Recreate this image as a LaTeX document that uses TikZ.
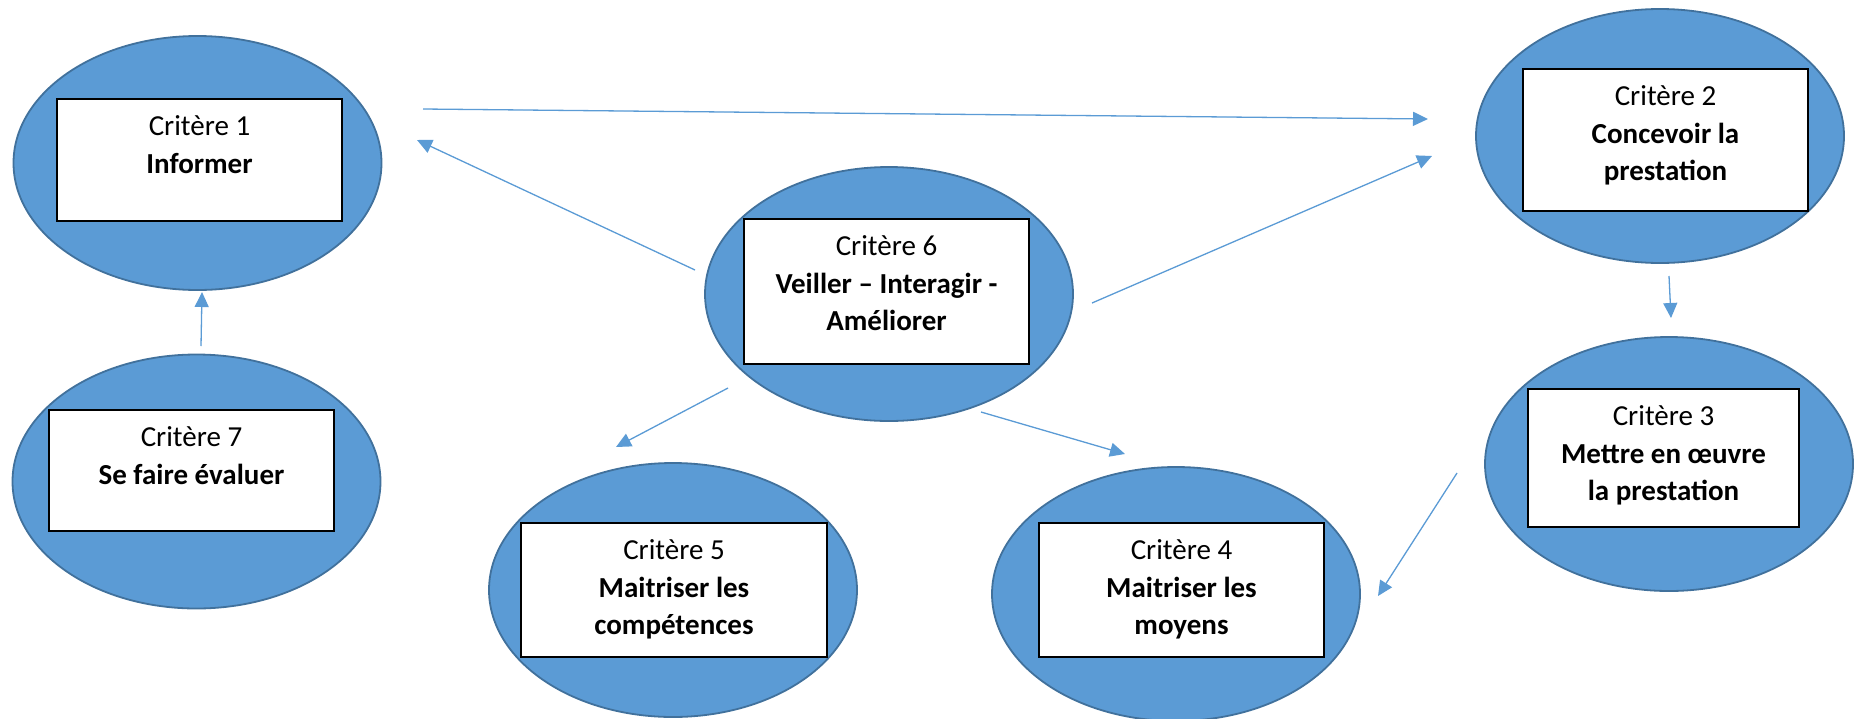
\documentclass[tikz,border=0pt]{standalone}
\usepackage{fontspec}
\setmainfont{Carlito}
\usetikzlibrary{shapes.geometric,arrows.meta}
\definecolor{ellfill}{HTML}{5B9BD5}
\definecolor{elldraw}{HTML}{41719C}
\definecolor{arrcol}{HTML}{5B9BD5}
\newcommand\critlines[1]{\begin{tabular}[t]{@{}c@{}}#1\end{tabular}}
\tikzset{
  ell/.style={ellipse, fill=ellfill, draw=elldraw, line width=1.8pt, inner sep=0pt,
              minimum width=368pt, minimum height=254pt},
  crit/.style={rectangle, fill=white, draw=black, line width=2.2pt, inner sep=0pt},
  txt/.style={inner sep=0pt, anchor=base,
              font=\fontsize{29}{37.5}\selectfont},
  arr/.style={draw=arrcol, line width=1.3pt,
              -{Triangle[length=15pt,width=14pt]}, fill=arrcol}
}
\begin{document}
\begin{tikzpicture}[x=1pt,y=-1pt]
\useasboundingbox (0,0) rectangle (1854,718);

% ellipses
\node[ell] (e1) at (197.5,163) {};
\node[ell] (e2) at (1660,136) {};
\node[ell] (e3) at (1669,464) {};
\node[ell] (e4) at (1176,594) {};
\node[ell] (e5) at (673,590) {};
\node[ell] (e6) at (889,294) {};
\node[ell] (e7) at (196.5,481.5) {};

% boxes
\node[crit, minimum width=285pt, minimum height=122pt] (b1) at (199.5,160) {};
\node[crit, minimum width=285pt, minimum height=142pt] (b2) at (1665.5,140) {};
\node[crit, minimum width=271pt, minimum height=138pt] (b3) at (1663.5,458) {};
\node[crit, minimum width=285pt, minimum height=134pt] (b4) at (1181.5,590) {};
\node[crit, minimum width=306pt, minimum height=134pt] (b5) at (674,590) {};
\node[crit, minimum width=285pt, minimum height=145pt] (b6) at (886.5,291.5) {};
\node[crit, minimum width=285pt, minimum height=121pt] (b7) at (191.5,470.5) {};

% texts
\node[txt] (t1) at ([yshift=-38pt]b1.north) {\critlines{Critère 1\\\textbf{Informer}}};
\node[txt] (t2) at ([yshift=-38pt]b2.north) {\critlines{Critère 2\\\textbf{Concevoir la}\\\textbf{prestation}}};
\node[txt] (t3) at ([yshift=-38pt]b3.north) {\critlines{Critère 3\\\textbf{Mettre en œuvre}\\\textbf{la prestation}}};
\node[txt] (t4) at ([yshift=-38pt]b4.north) {\critlines{Critère 4\\\textbf{Maitriser les}\\\textbf{moyens}}};
\node[txt] (t5) at ([yshift=-38pt]b5.north) {\critlines{Critère 5\\\textbf{Maitriser les}\\\textbf{compétences}}};
\node[txt] (t6) at ([yshift=-38pt]b6.north) {\critlines{Critère 6\\\textbf{Veiller – Interagir -}\\\textbf{Améliorer}}};
\node[txt] (t7) at ([yshift=-38pt]b7.north) {\critlines{Critère 7\\\textbf{Se faire évaluer}}};

% arrow end points
\coordinate (a12s) at (423,109);  \coordinate (a12e) at (1428,119);
\coordinate (a61s) at (695,270);  \coordinate (a61e) at (417,140);
\coordinate (a62s) at (1092,303); \coordinate (a62e) at (1432,156);
\coordinate (a23s) at (1669,276); \coordinate (a23e) at (1671,318);
\coordinate (a34s) at (1457,473); \coordinate (a34e) at (1378,596);
\coordinate (a64s) at (981,412);  \coordinate (a64e) at (1125,454);
\coordinate (a65s) at (728,388);  \coordinate (a65e) at (616,447);
\coordinate (a71s) at (201,346);  \coordinate (a71e) at (202,292);

\draw[arr] (a12s) -- (a12e);
\draw[arr] (a61s) -- (a61e);
\draw[arr] (a62s) -- (a62e);
\draw[arr] (a23s) -- (a23e);
\draw[arr] (a34s) -- (a34e);
\draw[arr] (a64s) -- (a64e);
\draw[arr] (a65s) -- (a65e);
\draw[arr] (a71s) -- (a71e);
\end{tikzpicture}
\end{document}
